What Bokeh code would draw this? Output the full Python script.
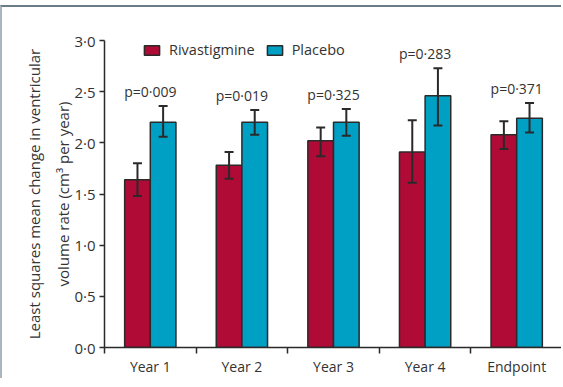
import numpy as np
from bokeh.plotting import figure
from bokeh.models import (ColumnDataSource, Range1d, FixedTicker, Whisker, TeeHead,
                          Legend, LegendItem)
from bokeh.transform import dodge
from bokeh.core.properties import value
from bokeh.embed import file_html
from bokeh.resources import INLINE

categories = ["Year 1", "Year 2", "Year 3", "Year 4", "Endpoint"]
rivastigmine = [1.64, 1.78, 2.02, 1.91, 2.08]
riva_upper = [1.80, 1.91, 2.15, 2.22, 2.21]
riva_lower = [1.48, 1.65, 1.87, 1.61, 1.94]
placebo = [2.20, 2.20, 2.20, 2.46, 2.24]
plac_upper = [2.36, 2.32, 2.33, 2.73, 2.39]
plac_lower = [2.06, 2.08, 2.07, 2.17, 2.10]
p_values = ["p=0·009", "p=0·019", "p=0·325", "p=0·283", "p=0·371"]
y_ticks = [0, 0.5, 1.0, 1.5, 2.0, 2.5, 3.0]
y_tick_labels = ["0·0", "0·5", "1·0", "1·5", "2·0", "2·5", "3·0"]

FONT = "Open Sans"
TXT = "#333333"
RED = "#b00a37"
BLUE = "#009fc4"
EDGE = "#2a2a2a"

idx = np.arange(len(categories))
centers = idx + 0.5
src = ColumnDataSource(dict(
    xc=centers, cat=categories,
    riva=rivastigmine, ru=riva_upper, rl=riva_lower,
    plac=placebo, pu=plac_upper, pl=plac_lower,
    ptext=p_values, py=np.array(plac_upper) + 0.05,
))

p = figure(width=561, height=373, output_backend="svg", toolbar_location=None,
           x_range=Range1d(0, len(categories)), y_range=Range1d(0, 3.0),
           min_border_left=102, min_border_right=1, min_border_top=33,
           min_border_bottom=33)
p.styles = {"border-top": "2px solid #6c7c86", "border-left": "2px solid #aab6bf",
            "position": "relative", "top": "5px"}
p.outline_line_color = None
p.grid.visible = False
p.background_fill_color = "white"

bw = 0.28
r1 = p.vbar(x=dodge("xc", -bw / 2), top="riva", width=bw, source=src,
            fill_color=RED, line_color=EDGE, line_width=1.5)
r2 = p.vbar(x=dodge("xc", bw / 2), top="plac", width=bw, source=src,
            fill_color=BLUE, line_color=EDGE, line_width=1.5)

for xoff, up, lo in [(-bw / 2, "ru", "rl"), (bw / 2, "pu", "pl")]:
    w = Whisker(base=dodge("xc", xoff), upper=up, lower=lo, source=src,
                line_color=EDGE, line_width=2, level="overlay",
                upper_head=TeeHead(size=9, line_color=EDGE, line_width=2),
                lower_head=TeeHead(size=9, line_color=EDGE, line_width=2))
    p.add_layout(w)

p.text(x="xc", y="py", text="ptext", source=src, text_align="center",
       text_baseline="bottom", text_font=value(FONT), text_font_size="14px",
       text_color=TXT)

# axes
xa = p.xaxis[0]
xa.ticker = FixedTicker(ticks=list(centers), minor_ticks=list(np.arange(len(categories) + 1)))
xa.major_label_overrides = {float(c): n for c, n in zip(centers, categories)}
xa.major_tick_out = 0
xa.major_tick_in = 0
xa.minor_tick_out = 6
xa.minor_tick_in = 0
xa.minor_tick_line_color = EDGE
xa.minor_tick_line_width = 1.5
xa.axis_line_color = EDGE
xa.axis_line_width = 1.5
xa.major_label_text_font = FONT
xa.major_label_text_font_size = "14px"
xa.major_label_text_color = TXT
xa.major_label_standoff = 3

ya = p.yaxis[0]
ya.ticker = FixedTicker(ticks=y_ticks)
ya.major_label_overrides = {float(t): l for t, l in zip(y_ticks, y_tick_labels)}
ya.major_tick_out = 5
ya.major_tick_in = 0
ya.minor_tick_out = 0
ya.minor_tick_in = 0
ya.major_tick_line_color = EDGE
ya.major_tick_line_width = 1.5
ya.axis_line_color = EDGE
ya.axis_line_width = 1.5
ya.major_label_text_font = FONT
ya.major_label_text_font_size = "15px"
ya.major_label_text_color = TXT
ya.major_label_standoff = 4
ya.axis_label = "Least squares mean change in ventricular\nvolume rate (cm³ per year)"
ya.axis_label_text_font = FONT
ya.axis_label_text_font_size = "15px"
ya.axis_label_text_font_style = "normal"
ya.axis_label_text_color = TXT
ya.axis_label_text_line_height = 1.45
ya.axis_label_standoff = -2

legend = Legend(items=[LegendItem(label="Rivastigmine", renderers=[r1]),
                       LegendItem(label="Placebo", renderers=[r2])],
                orientation="horizontal", location=(38, 288),
                padding=0, margin=0, spacing=10, label_standoff=8,
                glyph_width=19, glyph_height=12,
                label_text_font=FONT, label_text_font_size="14.5px",
                label_text_color=TXT, border_line_color=None,
                background_fill_alpha=0)
p.add_layout(legend)

open("out.html", "w").write(file_html(p, INLINE))
